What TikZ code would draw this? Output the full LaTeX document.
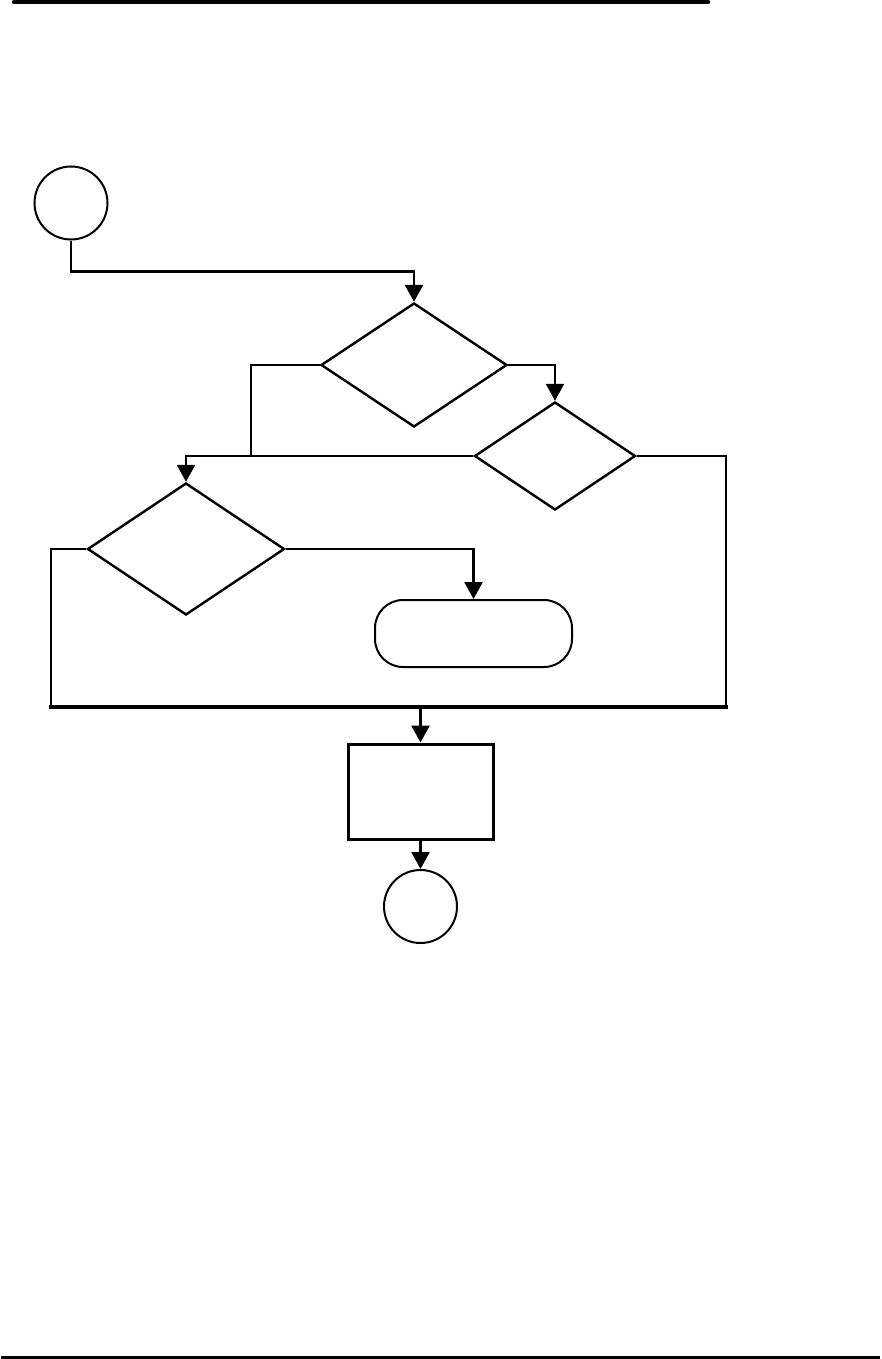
\documentclass[tikz,border=0pt]{standalone}
\usepackage{tikz}
\usetikzlibrary{positioning,arrows.meta,shapes.geometric}

\begin{document}
\begin{tikzpicture}[x=1pt,y=-1pt,
  flow/.style={line width=2.6pt},
  arr/.style={flow,-{Triangle[length=17pt,width=18pt]}},
  decision/.style={draw,diamond,line width=2.4pt,inner sep=0pt},
  terminal/.style={draw,circle,line width=2pt,inner sep=0pt,minimum size=73pt}]
\useasboundingbox[fill=white] (0,0) rectangle (882,1359);
% page rules
\draw[line width=4.5pt,line cap=round] (14,2) -- (708,2);
\draw[line width=3pt] (1,1357) -- (880,1357);
% nodes
\node[terminal] (start) at (71,203) {};
\node[decision,minimum width=186pt,minimum height=124pt] (d1) at (414,365) {};
\node[decision,minimum width=161pt,minimum height=108pt] (d2) at (555,456) {};
\node[decision,minimum width=197pt,minimum height=132pt] (d3) at (186,549) {};
\node[draw,rounded corners=28pt,line width=2pt,minimum width=197pt,minimum height=67pt] (exit) at (473.5,633.5) {};
\node[draw,line width=3pt,minimum width=145pt,minimum height=95pt] (proc) at (420.5,791.5) {};
\node[terminal] (stop) at (420.5,906.5) {};
\coordinate (jn) at (251,456);
\coordinate (cl) at (51,707);
\coordinate (cr) at (726,707);
% connectors
\draw[arr] (start.south) -- ++(0,31) -| (d1.north);
\draw[flow] (d1.west) -| (jn);
\draw[arr] (jn) -| (d3.north);
\draw[flow] (jn) -- (d2.west);
\draw[arr] (d1.east) -| (d2.north);
\draw[flow] (d2.east) -| (cr);
\draw[flow] (d3.west) -| (cl);
\draw[line width=3.5pt,line cap=rect] (cl) -- (cr);
\draw[arr] (d3.east) -| (exit.north);
\draw[arr] (proc.north |- cl) -- (proc.north);
\draw[arr] (proc.south) -- (stop.north);
\end{tikzpicture}
\end{document}
